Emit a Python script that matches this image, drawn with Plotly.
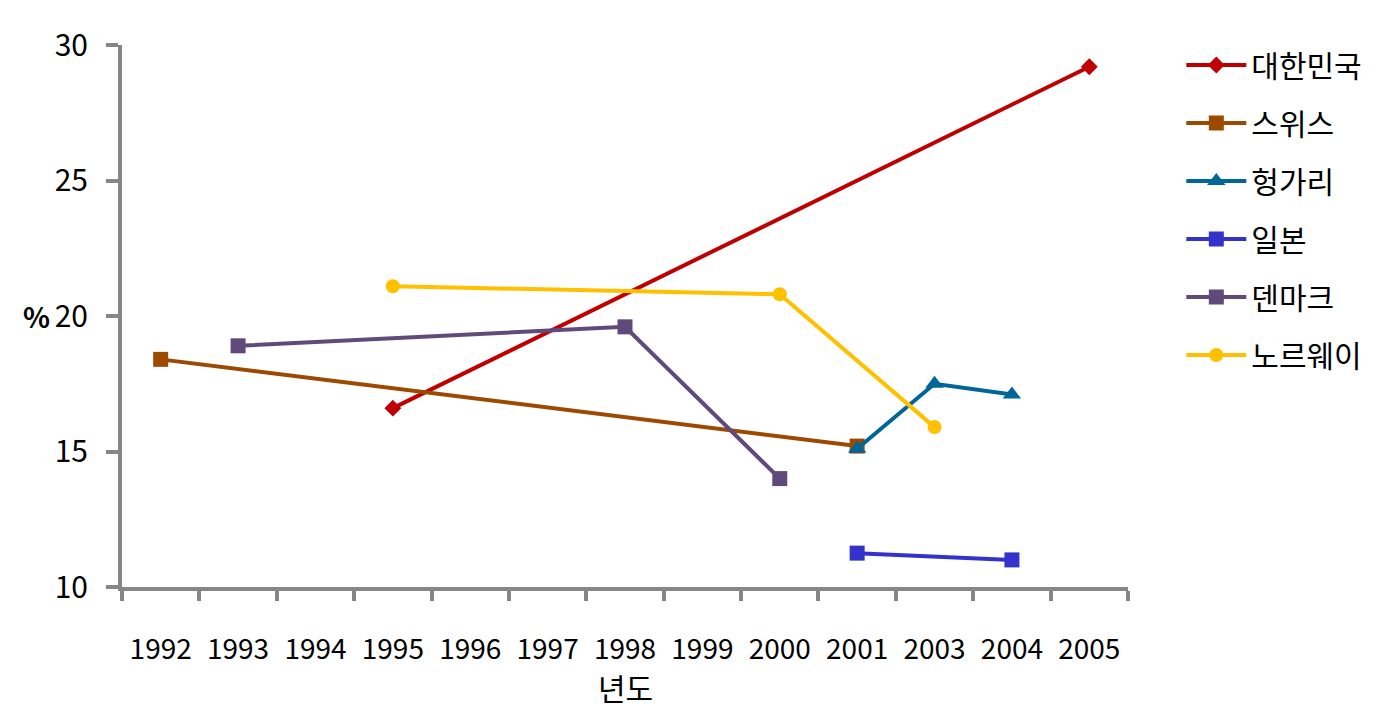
import plotly.graph_objects as go

years = ["1992", "1993", "1994", "1995", "1996", "1997", "1998", "1999",
         "2000", "2001", "2003", "2004", "2005"]

korea_x = ["1995", "2005"]
korea_y = [16.6, 29.2]
swiss_x = ["1992", "2001"]
swiss_y = [18.4, 15.2]
hungary_x = ["2001", "2003", "2004"]
hungary_y = [15.1, 17.5, 17.1]
japan_x = ["2001", "2004"]
japan_y = [11.25, 11.0]
denmark_x = ["1993", "1998", "2000"]
denmark_y = [18.9, 19.6, 14.0]
norway_x = ["1995", "2000", "2003"]
norway_y = [21.1, 20.8, 15.9]

FONT = "Noto Sans CJK KR"
series = [
    ("대한민국", korea_x, korea_y, "#C00000", "diamond", 13),
    ("스위스", swiss_x, swiss_y, "#9C4A00", "square", 15),
    ("헝가리", hungary_x, hungary_y, "#00669A", "triangle-up", 16),
    ("일본", japan_x, japan_y, "#3333CC", "square", 15),
    ("덴마크", denmark_x, denmark_y, "#604A7B", "square", 15),
    ("노르웨이", norway_x, norway_y, "#FFC000", "circle", 14),
]

fig = go.Figure()
for i, (name, xs, ys, color, sym, size) in enumerate(series):
    fig.add_trace(go.Scatter(
        x=xs, y=ys, name=name, mode="lines+markers",
        line=dict(color=color, width=4),
        marker=dict(color=color, symbol=sym, size=size),
        legendgroup=f"g{i}",
    ))

axis_color = "#868686"
fig.update_layout(
    width=1396, height=727,
    paper_bgcolor="white", plot_bgcolor="white",
    margin=dict(l=114, r=276, t=35, b=148),
    font=dict(family=FONT, size=30, color="black"),
    showlegend=True,
    legend=dict(x=1.053, y=1.011, xanchor="left", yanchor="top",
                font=dict(family=FONT, size=30), tracegroupgap=16,
                itemwidth=60),
    xaxis=dict(
        type="category", categoryorder="array", categoryarray=years,
        tickvals=years, range=[-0.5, len(years) - 0.5],
        tickson="boundaries", ticks="outside", ticklen=10, tickwidth=4,
        tickcolor=axis_color, showline=True, linecolor=axis_color, linewidth=4,
        showgrid=False, zeroline=False, ticklabelstandoff=34, tickangle=0,
        tickfont=dict(family=FONT, size=28),
    ),
    yaxis=dict(
        range=[10, 30], tickvals=[10, 15, 20, 25, 30],
        ticks="outside", ticklen=12, tickwidth=4, tickcolor=axis_color,
        showline=True, linecolor=axis_color, linewidth=4,
        showgrid=False, zeroline=False, ticklabelstandoff=12,
        tickfont=dict(family=FONT, size=30),
    ),
    annotations=[
        dict(text="<b>%</b>", x=-86 / 1006, y=20, xref="paper", yref="y",
             xanchor="center", yanchor="middle", showarrow=False,
             font=dict(family=FONT, size=28)),
        dict(text="년도", x=0.5, y=-0.14, xref="paper", yref="paper",
             xanchor="center", yanchor="top", showarrow=False,
             font=dict(family=FONT, size=30)),
    ],
)
fig.write_html("out.html")
